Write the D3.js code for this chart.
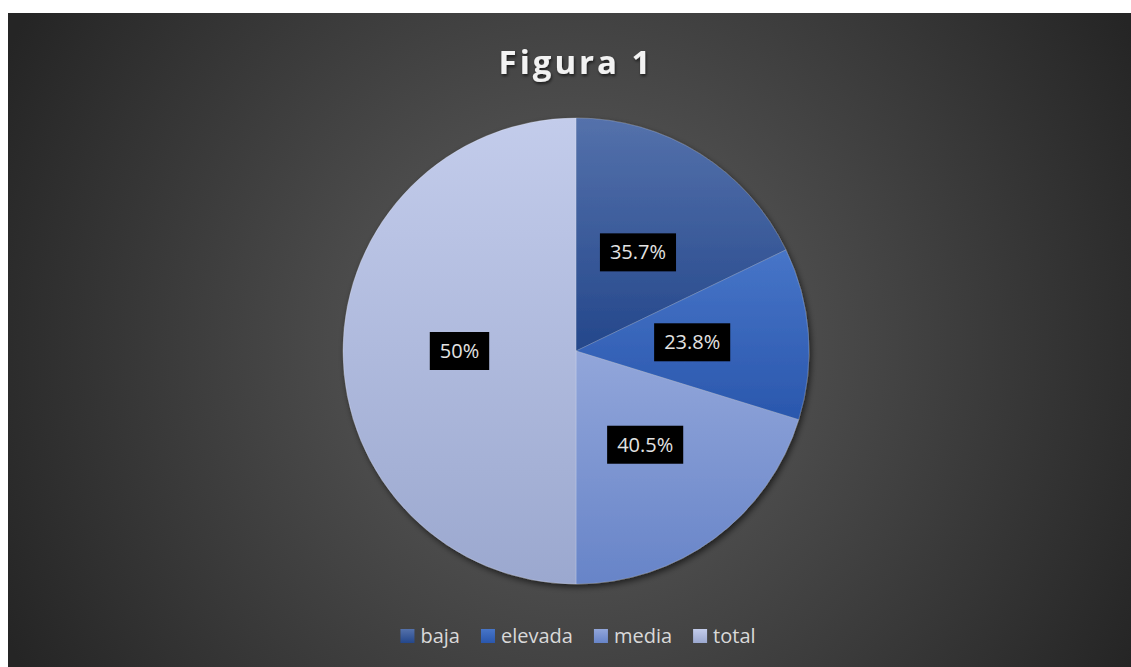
<!DOCTYPE html>
<html>
<head>
<meta charset="utf-8">
<script src="https://cdn.jsdelivr.net/npm/d3@7"></script>
<style>
html,body{margin:0;padding:0;background:#fff;}
svg{display:block;}
</style>
</head>
<body>
<svg id="chart" width="1131" height="667"></svg>
<script>
const categories = ["baja", "elevada", "media", "total"];
const values = [15, 10, 17, 42];
const labels = ["35.7%", "23.8%", "40.5%", "50%"];
const colorsTop = ["#5471ab", "#4775c8", "#92a6da", "#c3cceb"];
const colorsBottom = ["#24478b", "#2a57ad", "#6784c8", "#9ba8cf"];
const title = "Figura 1";

const W = 1131, H = 667;
const svg = d3.select("#chart");
const defs = svg.append("defs");

const bg = defs.append("radialGradient").attr("id", "bg")
  .attr("gradientUnits", "userSpaceOnUse")
  .attr("cx", 575).attr("cy", 345).attr("r", 640);
bg.append("stop").attr("offset", "0").attr("stop-color", "#565656");
bg.append("stop").attr("offset", "0.35").attr("stop-color", "#4c4c4c");
bg.append("stop").attr("offset", "1").attr("stop-color", "#252525");

svg.append("rect").attr("x", 8).attr("y", 13).attr("width", W - 8).attr("height", H - 13)
  .attr("fill", "url(#bg)");

const sh = defs.append("filter").attr("id", "shadow")
  .attr("x", "-10%").attr("y", "-10%").attr("width", "120%").attr("height", "120%");
sh.append("feDropShadow").attr("dx", 2).attr("dy", 3).attr("stdDeviation", 3)
  .attr("flood-color", "#000").attr("flood-opacity", 0.6);

const ts = defs.append("filter").attr("id", "tshadow")
  .attr("x", "-10%").attr("y", "-30%").attr("width", "120%").attr("height", "160%");
ts.append("feDropShadow").attr("dx", 1).attr("dy", 2).attr("stdDeviation", 1.5)
  .attr("flood-color", "#000").attr("flood-opacity", 0.6);

categories.forEach((c, i) => {
  const g = defs.append("linearGradient").attr("id", "g" + i)
    .attr("x1", 0).attr("y1", 0).attr("x2", 0).attr("y2", 1);
  g.append("stop").attr("offset", "0").attr("stop-color", colorsTop[i]);
  g.append("stop").attr("offset", "1").attr("stop-color", colorsBottom[i]);
});

const cx = 576, cy = 351, R = 233;
const pie = d3.pie().sort(null).value(d => d.v);
const data = categories.map((c, i) => ({c, v: values[i], l: labels[i], i}));
const arcs = pie(data);
const arc = d3.arc().innerRadius(0).outerRadius(R);

const gp = svg.append("g").attr("transform", `translate(${cx},${cy})`);
const slices = gp.append("g").attr("filter", "url(#shadow)");
slices.selectAll("path").data(arcs).join("path")
  .attr("d", arc)
  .attr("fill", d => `url(#g${d.data.i})`)
  .attr("stroke", "rgba(255,255,255,0.25)")
  .attr("stroke-width", 0.75);

const lab = gp.selectAll("g.lab").data(arcs).join("g").attr("class", "lab")
  .attr("transform", d => `translate(${arc.centroid(d)})`);
lab.append("text")
  .attr("text-anchor", "middle").attr("dy", "0.35em")
  .attr("font-family", "Open Sans").attr("font-size", 20)
  .attr("fill", "#e3e3e3")
  .text(d => d.data.l);
lab.each(function() {
  const g = d3.select(this);
  const bb = g.select("text").node().getBBox();
  g.insert("rect", "text")
    .attr("x", bb.x - 10).attr("y", -19)
    .attr("width", bb.width + 20).attr("height", 38)
    .attr("fill", "#000");
});

svg.append("text")
  .attr("x", cx).attr("y", 74)
  .attr("text-anchor", "middle")
  .attr("font-family", "Open Sans").attr("font-weight", "bold")
  .attr("font-size", 33).attr("letter-spacing", 3)
  .attr("fill", "#f2f2f2").attr("filter", "url(#tshadow)")
  .text(title);

// legend
const leg = svg.append("g");
let x = 0;
const items = leg.selectAll("g").data(categories).join("g");
items.append("rect").attr("width", 14).attr("height", 14).attr("y", -14)
  .attr("fill", (d, i) => `url(#g${i})`);
items.append("text").attr("x", 20).attr("y", 0)
  .attr("font-family", "Open Sans").attr("font-size", 20)
  .attr("fill", "#d9d9d9").text(d => d);
items.each(function() {
  const w = this.getBBox().width;
  d3.select(this).attr("transform", `translate(${x},643)`);
  x += w + 21;
});
const total = x - 21;
leg.attr("transform", `translate(${576 - total / 2 + 2},0)`);
</script>
</body>
</html>
